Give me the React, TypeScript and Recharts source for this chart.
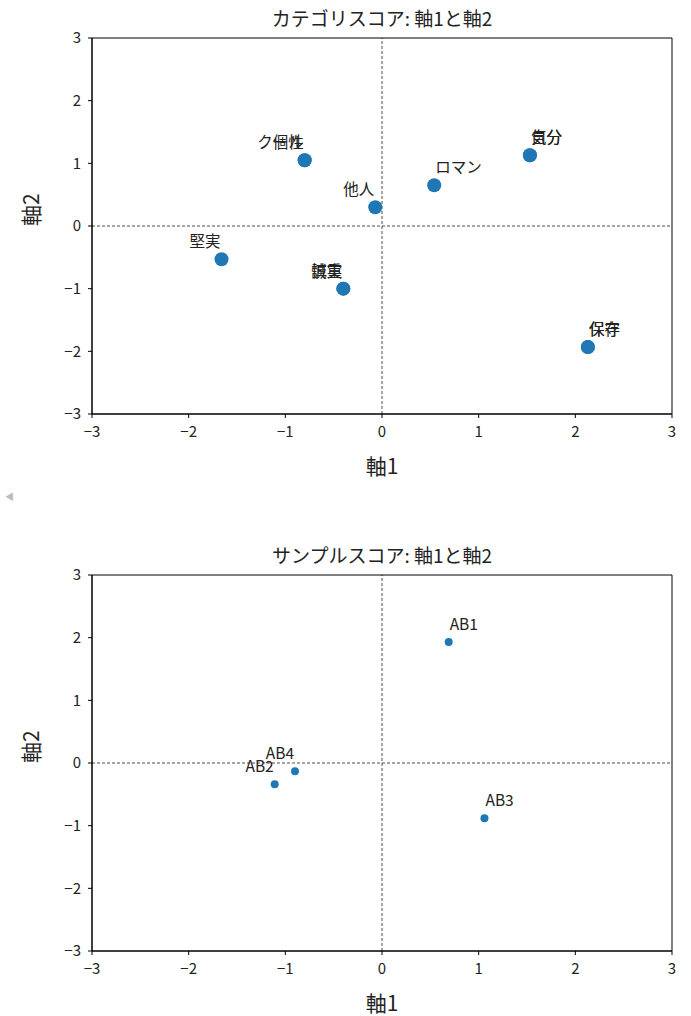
import { ScatterChart, Scatter, XAxis, YAxis, ReferenceLine, ReferenceArea } from "recharts"

// category scores (axis 1, axis 2)
const catNames = ["クール", "個性", "他人", "ロマン", "自分", "気分", "堅実", "誠実", "慎重", "保守", "保存"]
const catX = [-0.8, -0.8, -0.07, 0.54, 1.53, 1.53, -1.66, -0.4, -0.4, 2.13, 2.13]
const catY = [1.05, 1.05, 0.3, 0.65, 1.13, 1.13, -0.53, -1.0, -1.0, -1.93, -1.93]

// sample scores
const sampleNames = ["AB1", "AB2", "AB3", "AB4"]
const sampleX = [0.69, -1.11, 1.06, -0.9]
const sampleY = [1.93, -0.34, -0.88, -0.13]

const ticks = [-3, -2, -1, 0, 1, 2, 3]

const FONT = "'Noto Sans CJK JP', 'DejaVu Sans', sans-serif"
const BLUE = "#1f77b4"

const fmt = (v: number) => (v < 0 ? "\u2212" + Math.abs(v) : String(v))

function makePoint(r: number) {
  return (props: any) => {
    const { cx, cy, payload } = props
    const left = payload.x < 0
    return (
      <g>
        <circle cx={cx} cy={cy} r={r} fill={BLUE} />
        <text
          x={left ? cx - 1 : cx + 1}
          y={cy - 12}
          textAnchor={left ? "end" : "start"}
          fontSize={15.5}
          fontFamily={FONT}
          fill="#222"
        >
          {payload.name}
        </text>
      </g>
    )
  }
}

function Panel({ title, names, xs, ys, r }: { title: string; names: string[]; xs: number[]; ys: number[]; r: number }) {
  const data = names.map((name, i) => ({ name, x: xs[i], y: ys[i] }))
  const tickStyle = { fill: "#222", fontSize: 15, fontFamily: FONT }
  return (
    <div style={{ position: "relative", width: 691, height: 480 }}>
      <div
        style={{
          position: "absolute",
          left: 92,
          width: 580,
          top: 4,
          textAlign: "center",
          fontFamily: FONT,
          fontSize: 19,
          color: "#222",
        }}
      >
        {title}
      </div>
      <ScatterChart width={691} height={480} margin={{ top: 38, right: 19, bottom: 0, left: 32 }}>
        <XAxis
          type="number"
          dataKey="x"
          domain={[-3, 3]}
          ticks={ticks}
          tickFormatter={fmt}
          allowDataOverflow
          height={66}
          tickSize={4}
          tickMargin={8}
          stroke="#000"
          tick={tickStyle}
          label={{ value: "軸1", position: "insideBottom", offset: 6, fontSize: 21, fontFamily: FONT, fill: "#222" }}
        />
        <YAxis
          type="number"
          dataKey="y"
          domain={[-3, 3]}
          ticks={ticks}
          tickFormatter={fmt}
          allowDataOverflow
          width={60}
          tickSize={4}
          tickMargin={7}
          stroke="#000"
          tick={tickStyle}
          label={{ value: "軸2", angle: -90, position: "insideLeft", offset: 0, fontSize: 21, fontFamily: FONT, fill: "#222" }}
        />
        <ReferenceArea x1={-3} x2={3} y1={-3} y2={3} fill="none" stroke="#000" strokeWidth={1} />
        <ReferenceLine x={0} stroke="#000" strokeWidth={0.7} strokeDasharray="3 2" />
        <ReferenceLine y={0} stroke="#000" strokeWidth={0.7} strokeDasharray="3 2" />
        <Scatter data={data} shape={makePoint(r)} isAnimationActive={false} />
      </ScatterChart>
    </div>
  )
}

export default function App() {
  return (
    <div style={{ position: "absolute", left: 0, top: 0, width: 691, height: 1016, background: "#fff" }}>
      <Panel title="カテゴリスコア: 軸1と軸2" names={catNames} xs={catX} ys={catY} r={7} />
      <div style={{ position: "absolute", left: 5, top: 490, fontSize: 9, color: "#bbb", fontFamily: FONT }}>◀</div>
      <div style={{ position: "absolute", left: 0, top: 537 }}>
        <Panel title="サンプルスコア: 軸1と軸2" names={sampleNames} xs={sampleX} ys={sampleY} r={4} />
      </div>
    </div>
  )
}
